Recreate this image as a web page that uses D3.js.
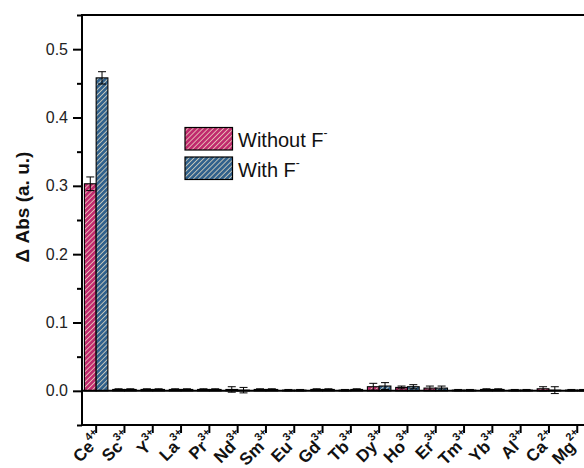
<!DOCTYPE html>
<html>
<head>
<meta charset="utf-8">
<script src="https://cdn.jsdelivr.net/npm/d3@7/dist/d3.min.js"></script>
<style>
html,body{margin:0;padding:0;background:#fff;}
svg{display:block;font-family:Arial,"Liberation Sans",sans-serif;}
</style>
</head>
<body>
<svg id="chart" width="584" height="468"></svg>
<script>
const ions = ["Ce","Sc","Y","La","Pr","Nd","Sm","Eu","Gd","Tb","Dy","Ho","Er","Tm","Yb","Al","Ca","Mg"];
const charges = ["4+","3+","3+","3+","3+","3+","3+","3+","3+","3+","3+","3+","3+","3+","3+","3+","2+","2+"];
const seriesNames = ["Without F","With F"];
const withoutF = [0.303,0.002,0.002,0.002,0.002,0.002,0.002,0.001,0.002,0.001,0.006,0.005,0.004,0.001,0.002,0.001,0.003,0.001];
const withoutFErr = [0.010,0.001,0.001,0.001,0.001,0.004,0.001,0.001,0.001,0.001,0.005,0.002,0.003,0.001,0.001,0.001,0.003,0.001];
const withF = [0.458,0.002,0.002,0.002,0.002,0.001,0.002,0.001,0.002,0.002,0.007,0.006,0.004,0.001,0.002,0.001,0.001,0.001];
const withFErr = [0.009,0.001,0.001,0.001,0.001,0.004,0.001,0.001,0.001,0.001,0.005,0.003,0.003,0.001,0.001,0.001,0.005,0.001];
const yTicks = [0.0,0.1,0.2,0.3,0.4,0.5];
const yMinorTicks = [-0.05,0.05,0.15,0.25,0.35,0.45,0.55];

(function(){
const colors = ["#c02a6e","#31618c"];
const svg = d3.select("#chart");
const mLeft = 82, mTop = 15, mBottom = 425, rightEdge = 591.4;

const y = d3.scaleLinear().domain([-0.05,0.55]).range([mBottom, mTop]);
const x = d3.scaleBand().domain(ions).range([mLeft, rightEdge]).paddingInner(0.17).paddingOuter(0.085);
const xs = d3.scaleBand().domain(seriesNames).range([0, x.bandwidth()]);

// patterns
const defs = svg.append("defs");
colors.forEach((c,i)=>{
  const p = defs.append("pattern").attr("id","hatch"+i).attr("patternUnits","userSpaceOnUse")
    .attr("width",3.6).attr("height",3.6).attr("patternTransform","rotate(45)");
  p.append("rect").attr("width",3.6).attr("height",3.6).attr("fill",c);
  p.append("line").attr("x1",0).attr("y1",0).attr("x2",0).attr("y2",3.6)
    .attr("stroke","#f3e6c8").attr("stroke-width",1.4);
});

// bars
const data = ions.map((ion,i)=>({ion, vals:[
  {s:seriesNames[0], v:withoutF[i], e:withoutFErr[i], k:0},
  {s:seriesNames[1], v:withF[i], e:withFErr[i], k:1}]}));

const g = svg.append("g");
const groups = g.selectAll("g.grp").data(data).join("g").attr("transform",d=>`translate(${x(d.ion)},0)`);
groups.selectAll("rect").data(d=>d.vals).join("rect")
  .attr("x",d=>xs(d.s)).attr("width",xs.bandwidth())
  .attr("y",d=>y(d.v)).attr("height",d=>y(0)-y(d.v))
  .attr("fill",d=>`url(#hatch${d.k})`).attr("stroke","#000").attr("stroke-width",1.1);

// error bars
groups.selectAll("g.err").data(d=>d.vals).join("g").each(function(d){
  const cx = xs(d.s)+xs.bandwidth()/2;
  const sel = d3.select(this);
  sel.append("line").attr("x1",cx).attr("x2",cx).attr("y1",y(d.v+d.e)).attr("y2",y(d.v-d.e)).attr("stroke","#000").attr("stroke-width",1);
  [d.v+d.e,d.v-d.e].forEach(vv=>{
    sel.append("line").attr("x1",cx-4).attr("x2",cx+4).attr("y1",y(vv)).attr("y2",y(vv)).attr("stroke","#000").attr("stroke-width",1);
  });
});

// zero line
svg.append("line").attr("x1",mLeft).attr("x2",584).attr("y1",y(0)).attr("y2",y(0)).attr("stroke","#000").attr("stroke-width",2);

// frame top line
svg.append("line").attr("x1",mLeft).attr("x2",584).attr("y1",mTop).attr("y2",mTop).attr("stroke","#000").attr("stroke-width",2);

// Y axis
const yAxis = d3.axisLeft(y).tickValues(yTicks).tickFormat(d3.format(".1f")).tickSize(9).tickPadding(5);
const ya = svg.append("g").attr("transform",`translate(${mLeft},0)`).call(yAxis);
ya.select(".domain").remove();
ya.selectAll(".tick line").attr("stroke-width",2);
ya.selectAll("text").attr("font-size",16).attr("font-family","Arial,'Liberation Sans',sans-serif").attr("fill","#222");
svg.append("g").attr("transform",`translate(${mLeft},0)`)
  .call(d3.axisLeft(y).tickValues(yMinorTicks).tickSize(5).tickFormat(""))
  .call(s=>s.select(".domain").remove())
  .selectAll(".tick line").attr("stroke-width",2);
svg.append("line").attr("x1",mLeft).attr("x2",mLeft).attr("y1",mTop-1).attr("y2",mBottom+1).attr("stroke","#000").attr("stroke-width",2);

// X axis
const xAxis = d3.axisBottom(x).tickSize(8).tickFormat("");
const xa = svg.append("g").attr("transform",`translate(0,${mBottom})`).call(xAxis);
xa.select(".domain").remove();
xa.selectAll(".tick line").attr("stroke-width",2);
svg.append("line").attr("x1",mLeft-1).attr("x2",584).attr("y1",mBottom).attr("y2",mBottom).attr("stroke","#000").attr("stroke-width",2);

// x labels
ions.forEach((ion,i)=>{
  const cx = x(ion)+x.bandwidth()/2;
  const t = svg.append("text")
    .attr("transform",`translate(${cx+8},${mBottom+14}) rotate(-45)`)
    .attr("text-anchor","end").attr("font-size",17).attr("font-weight","bold").attr("fill","#111");
  t.append("tspan").text(ion);
  t.append("tspan").attr("dy",-9).attr("font-size",11).text(charges[i]);
});

// y title
svg.append("text").attr("transform",`translate(29,207) rotate(-90)`).attr("text-anchor","middle")
  .attr("font-size",19).attr("font-weight","bold").attr("fill","#111").text("Δ Abs (a. u.)");

// legend
const lg = svg.append("g");
seriesNames.forEach((s,i)=>{
  const yy = 127.5 + i*29.5;
  lg.append("rect").attr("x",185).attr("y",yy).attr("width",47.5).attr("height",22.5)
    .attr("fill",`url(#hatch${i})`).attr("stroke","#000").attr("stroke-width",1.2);
  const t = lg.append("text").attr("x",238).attr("y",yy+19.5).attr("font-size",20).attr("fill","#111");
  t.append("tspan").text(s);
  t.append("tspan").attr("dy",-10).attr("font-size",12).text("-");
});
})();
</script>
</body>
</html>
